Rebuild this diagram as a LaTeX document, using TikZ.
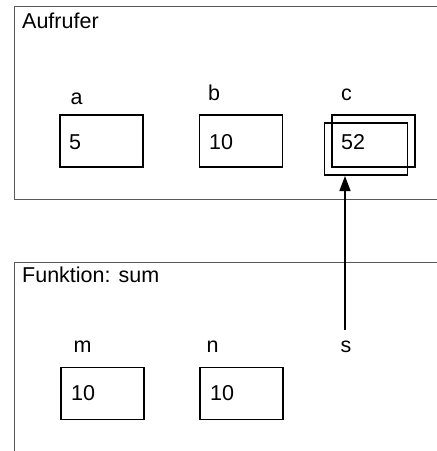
\documentclass[tikz,border=0pt]{standalone}
\usepackage{fontspec}
\setmainfont{Liberation Sans}
\usetikzlibrary{arrows.meta}
\begin{document}
\begin{tikzpicture}[x=1pt,y=-1pt,
  every node/.style={inner sep=0pt,font=\fontsize{21.5}{25}\selectfont},
  frame/.style={draw=black!65,line width=0.9pt},
  varbox/.style={draw=black,line width=1.3pt,minimum width=83pt,minimum height=52pt},
  txt/.style={anchor=base west},
  lbl/.style={anchor=base}]
\useasboundingbox (0,0) rectangle (437,451);
\clip (0,0) rectangle (437,451);
% caller frame
\node[frame,anchor=north west,minimum width=460pt,minimum height=193pt] (caller) at (14,6) {};
\node[txt] (callerT) at (22,28) {Aufrufer};
\node[varbox] (a) at (101.5,141) {};
\node[varbox] (b) at (241,141) {};
\node[varbox] (c2) at (373.5,141) {};
\node[varbox] (c) at (366,149) {};
\node[lbl] (la) at (76.5,104) {a};
\node[lbl] (lb) at (214,100) {b};
\node[lbl] (lc) at (346.5,100) {c};
\node[txt] (va) at (69,149) {5};
\node[txt] (vb) at (209,149) {10};
\node[txt] (vc) at (341,149) {52};
% function frame
\node[frame,anchor=north west,minimum width=460pt,minimum height=220pt] (func) at (14,262) {};
\node[txt] (funcT) at (22,282) {Funktion: sum};
\node[varbox] (m) at (102.5,393.5) {};
\node[varbox] (n) at (241.5,393.5) {};
\node[lbl] (lm) at (82.5,352) {m};
\node[lbl] (ln) at (212.5,352) {n};
\node[lbl] (ls) at (346,352) {s};
\node[txt] (vm) at (71,400) {10};
\node[txt] (vn) at (210,400) {10};
\coordinate (sbot) at (345,330);
\coordinate (ctip) at (345,176);
\draw[line width=1.3pt,-{Triangle[length=15pt,width=11pt]}] (sbot) -- (ctip);
\end{tikzpicture}
\end{document}
